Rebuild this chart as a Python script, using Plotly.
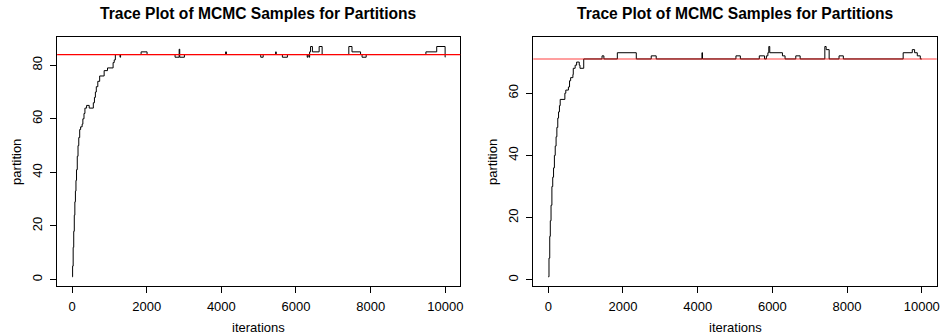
import plotly.graph_objects as go
from plotly.subplots import make_subplots

# ---- data (change points of the MCMC trace: iteration, partition value) ----
left_iter = [0, 15, 30, 45, 60, 75, 90, 105, 120, 140, 160, 180, 205, 230, 270, 290, 320, 345, 390,
             460, 570, 600, 625, 650, 690, 740, 860, 950, 1100, 1130, 1160, 1285, 1300, 1850, 2010,
             2760, 2870, 2885, 3010, 4115, 4135, 5055, 5120, 5455, 5470, 5635, 5770, 6300, 6320,
             6350, 6365, 6390, 6440, 6620, 6700, 7415, 7500, 7730, 7770, 7880, 9480, 9770, 9995, 10000]
left_val = [1, 5, 12, 18, 24, 29, 33, 37, 41, 46, 50, 53, 56, 57, 58, 60, 62, 64, 65,
            64, 66, 68, 70, 72, 74, 76, 78, 79, 81, 82, 84, 83, 84, 85, 84,
            83, 86, 83, 84, 85, 84, 83, 84, 85, 84, 83, 84, 83, 84,
            83, 85, 87, 85, 87, 84, 87, 85, 84, 83, 84, 85, 87, 83, 83]
left_ref = 84

right_iter = [0, 20, 40, 55, 75, 98, 120, 142, 165, 187, 210, 231, 255, 276, 300, 320, 445, 470,
              540, 570, 600, 660, 670, 720, 760, 830, 850, 950, 1440, 1490, 1850, 2357, 2757, 2890,
              4115, 4130, 5025, 5143, 5650, 5790, 5840, 5880, 5905, 5930, 6270, 6340, 6627, 6744,
              7405, 7440, 7520, 7785, 7900, 9502, 9746, 9808, 9880, 9960, 10000]
right_val = [1, 7, 14, 19, 24, 30, 33, 36, 40, 43, 46, 49, 52, 54, 56, 58, 60, 61,
             62, 64, 65, 66, 68, 69, 70, 69, 68, 71, 72, 71, 73, 71, 72, 71,
             73, 71, 72, 71, 72, 71, 72, 73, 75, 73, 72, 71, 72, 71,
             75, 74, 71, 72, 71, 73, 74, 73, 72, 71, 71]
right_ref = 71

x_ticks = [0, 2000, 4000, 6000, 8000, 10000]
left_y_ticks = [0, 20, 40, 60, 80]
right_y_ticks = [0, 20, 40, 60]

title_text = "Trace Plot of MCMC Samples for Partitions"
x_title = "iterations"
y_title = "partition"

FONT = "Liberation Sans, Arial, Helvetica, sans-serif"
W, H = 945, 336

fig = make_subplots(rows=1, cols=2)

fig.add_trace(go.Scatter(x=left_iter, y=left_val, mode="lines",
                         line=dict(shape="hv", color="black", width=1), showlegend=False), row=1, col=1)
fig.add_trace(go.Scatter(x=right_iter, y=right_val, mode="lines",
                         line=dict(shape="hv", color="black", width=1), showlegend=False), row=1, col=2)

fig.add_hline(y=left_ref, line=dict(color="rgb(255,0,0)", width=1.3), row=1, col=1)
fig.add_hline(y=right_ref, line=dict(color="rgba(255,0,0,0.5)", width=1.6), row=1, col=2)

# plot-box geometry (pixels)
L_x0, L_x1 = 57.3, 461.7
R_x0, R_x1 = 535.0, 939.7
top, bottom = 37.3, 286.0

def px(x):
    return x / W

def py(y):
    return 1 - y / H

def yrange(vals):
    lo, hi = min(vals), max(vals)
    d = (hi - lo) * 0.04
    return [lo - d, hi + d]

def xrange(vals):
    lo, hi = min(vals), max(vals)
    d = (hi - lo) * 0.04
    return [lo - d, hi + d]

axis_common = dict(showline=True, mirror=True, linecolor="black", linewidth=1,
                   ticks="outside", ticklen=6, tickwidth=1, tickcolor="black",
                   showgrid=False, zeroline=False,
                   tickfont=dict(family=FONT, size=13, color="black"))

fig.update_layout(
    xaxis=dict(domain=[px(L_x0), px(L_x1)], range=xrange(left_iter), tickvals=x_ticks,
               ticktext=[str(v) for v in x_ticks], ticklabelstandoff=2, **axis_common),
    xaxis2=dict(domain=[px(R_x0), px(R_x1)], range=xrange(right_iter), tickvals=x_ticks,
                ticktext=[str(v) for v in x_ticks], ticklabelstandoff=2, **axis_common),
    yaxis=dict(domain=[py(bottom), py(top)], range=yrange(left_val), tickvals=left_y_ticks,
               ticktext=[str(v) for v in left_y_ticks], tickangle=-90, ticklabelstandoff=3,
               **axis_common),
    yaxis2=dict(domain=[py(bottom), py(top)], range=yrange(right_val), tickvals=right_y_ticks,
                ticktext=[str(v) for v in right_y_ticks], tickangle=-90, ticklabelstandoff=3,
                **axis_common),
    width=W, height=H,
    margin=dict(l=0, r=0, t=0, b=0, pad=0),
    paper_bgcolor="white", plot_bgcolor="white",
    font=dict(family=FONT, color="black"),
    showlegend=False,
)

anns = []
for x0, x1 in [(L_x0, L_x1), (R_x0, R_x1)]:
    cx = (x0 + x1) / 2
    anns.append(dict(text="<b>" + title_text + "</b>", x=px(cx), y=py(14), xref="paper", yref="paper",
                     xanchor="center", yanchor="middle", showarrow=False,
                     font=dict(family=FONT, size=15.6, color="black")))
    anns.append(dict(text=x_title, x=px(cx), y=py(327), xref="paper", yref="paper",
                     xanchor="center", yanchor="middle", showarrow=False,
                     font=dict(family=FONT, size=13, color="black")))
    anns.append(dict(text=y_title, x=px(x0 - 41), y=py((top + bottom) / 2), xref="paper", yref="paper",
                     xanchor="center", yanchor="middle", showarrow=False, textangle=-90,
                     font=dict(family=FONT, size=13, color="black")))
fig.update_layout(annotations=anns)

fig.write_html("out.html",
               config={"displayModeBar": False},
               post_script="document.body.style.margin='0';document.body.style.padding='0';"
                           "document.body.style.overflow='hidden';")
